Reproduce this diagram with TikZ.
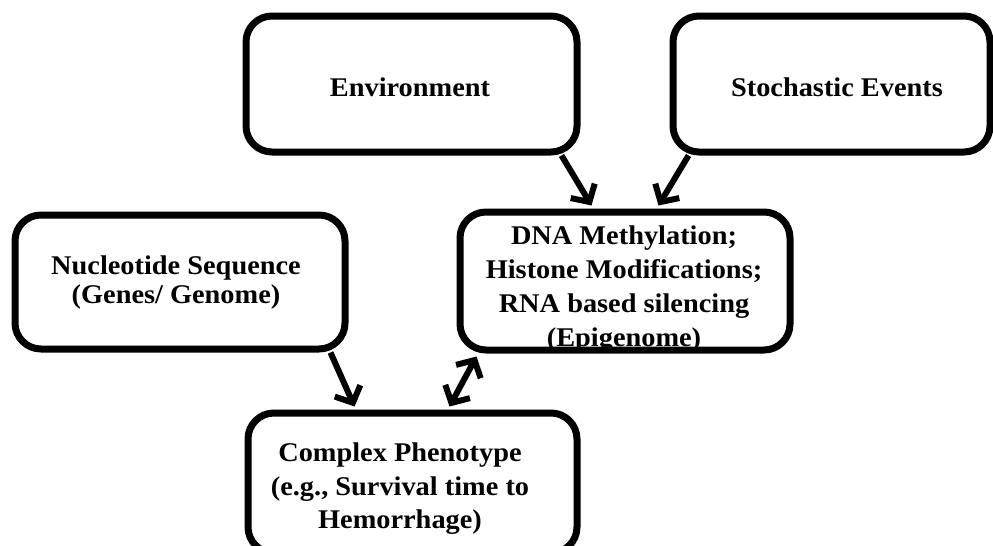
\documentclass[tikz,border=0pt]{standalone}
\usepackage{fontspec}
\setmainfont{Liberation Serif}[FakeStretch=1.05]
\usetikzlibrary{arrows.meta,calc}
\begin{document}
\begin{tikzpicture}[x=1pt,y=-1pt,
  box/.style={draw=black, line width=7pt, rounded corners=26pt, inner sep=0pt},
  txt/.style={font=\bfseries\fontsize{27}{34}\selectfont, align=center, inner sep=0pt},
  arr/.style={line width=6pt, -{Straight Barb[length=13pt,width=28pt]}}]
\useasboundingbox (0,0) rectangle (993,546);
\clip (0,0) rectangle (993,546);
% texts
\node[txt] (envt) at (410,87) {Environment};
\node[txt] (stocht) at (837,87) {Stochastic Events};
\node[txt, font=\bfseries\fontsize{27}{29}\selectfont] (nuct) at (176,283) {Nucleotide Sequence\\(Genes/ Genome)};
\node[txt] (epit) at (624,289) {DNA Methylation;\\Histone Modifications;\\RNA based silencing\\(Epigenome)};
\node[txt, font=\bfseries\fontsize{27}{33.5}\selectfont] (compt) at (400,489) {Complex Phenotype\\(e.g., Survival time to\\Hemorrhage)};
% boxes
\node[box, minimum width=331pt, minimum height=136pt] (env) at (411.5,84) {};
\node[box, minimum width=317pt, minimum height=136pt] (stoch) at (831.5,84) {};
\node[box, minimum width=330pt, minimum height=134pt] (nuc) at (180,282) {};
\node[box, minimum width=330pt, minimum height=138pt] (epi) at (625,281) {};
\node[box, minimum width=329pt, minimum height=140pt] (comp) at (412.5,483) {};
% connectors
\draw[arr] ($(env.south west)+(319,0)$) -- ($(epi.north west)+(135,-3)$);
\draw[arr] ($(stoch.south west)+(19,0)$) -- ($(epi.north west)+(202,-3)$);
\draw[arr] ($(nuc.south east)+(-18,0)$) -- ($(comp.north west)+(110,-3)$);
\draw[arr, {Straight Barb[length=13pt,width=28pt]}-{Straight Barb[length=13pt,width=28pt]}] ($(epi.south west)+(20,3)$) -- ($(comp.north west)+(205,-3)$);
\end{tikzpicture}
\end{document}
